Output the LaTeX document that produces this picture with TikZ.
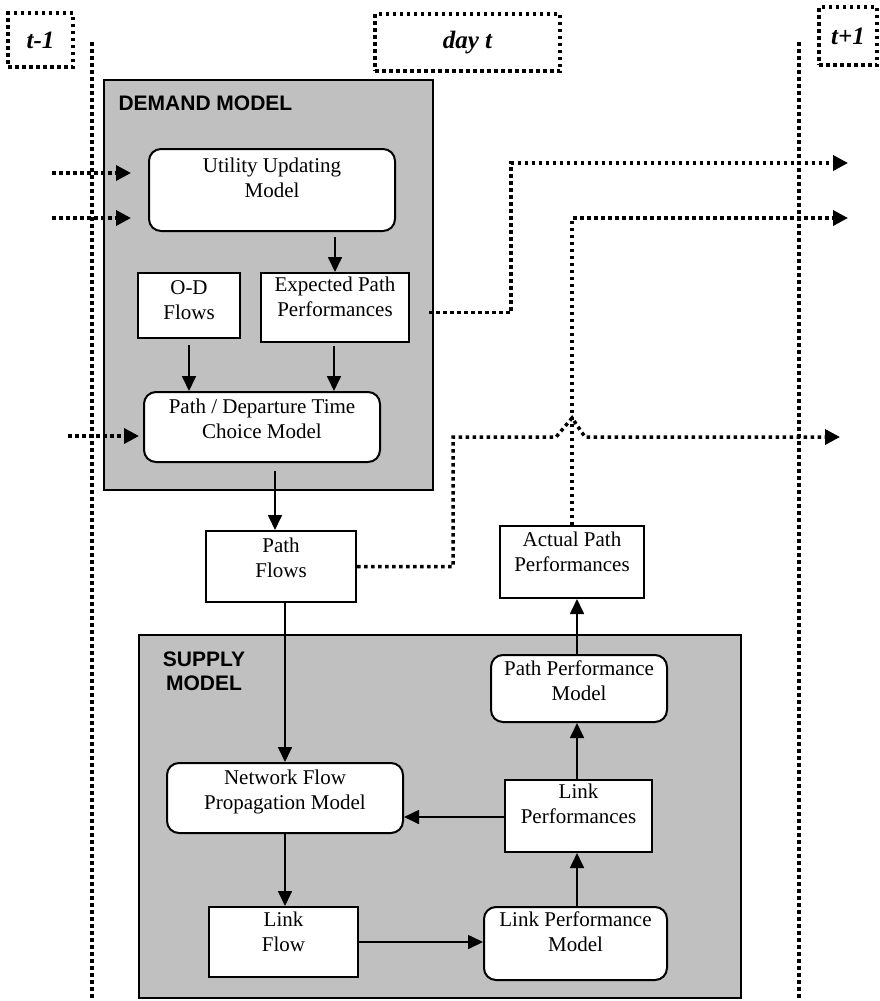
\documentclass[tikz,border=0pt]{standalone}
\usepackage{fontspec}
\setmainfont{Liberation Serif}
\setsansfont{Liberation Sans}
\usepackage{tikz}
\usepackage{xcolor}
\usetikzlibrary{calc}
\usetikzlibrary{arrows.meta, positioning}

\definecolor{panel}{RGB}{192,192,192}

\begin{document}
\begin{tikzpicture}[x=1pt, y=-1pt, line join=miter,
    area/.style={draw, line width=2pt, fill=panel, inner sep=0pt},
    box/.style={draw, line width=2pt, fill=white, align=center, inner sep=0pt,
        font=\fontsize{21}{25}\selectfont},
    rbox/.style={box, rounded corners=12pt},
    lift/.style={text depth=#1},
    title/.style={font=\sffamily\bfseries\fontsize{21}{24}\selectfont, align=center},
    daybox/.style={draw, line width=3.5pt, dash pattern=on 3.5pt off 3.5pt,
        font=\bfseries\itshape\fontsize{25}{28}\selectfont, inner sep=0pt},
    flow/.style={line width=1.7pt, -{Triangle[length=15pt,width=14pt]}},
    dotline/.style={line width=3.5pt, dash pattern=on 3.5pt off 3.5pt},
    dotarrow/.style={dotline, -{Triangle[length=15pt,width=15pt]}}]

    \useasboundingbox (0,0) rectangle (879,1001);

    % day markers
    \node[daybox, minimum width=65pt, minimum height=54pt] (tprev) at (40.5,40) {t-1};
    \node[daybox, minimum width=185pt, minimum height=57pt] (tday) at (467.5,42.5) {day t};
    \node[daybox, minimum width=58pt, minimum height=58pt] (tnext) at (848,36) {t+1};

    % day boundaries
    \coordinate (lefttop) at (92,42);
    \coordinate (leftbot) at (92,1001);
    \coordinate (righttop) at (799,42);
    \coordinate (rightbot) at (799,1001);
    \draw[dotline] (lefttop) -- (leftbot);
    \draw[dotline] (righttop) -- (rightbot);

    % demand model
    \node[area, minimum width=329pt, minimum height=410pt] (demand) at (268.5,285) {};
    \node[title, anchor=north west] (demandlabel) at (115,92) {DEMAND MODEL};

    \node[rbox, minimum width=246pt, minimum height=82pt, lift=25pt] (util) at (272,190)
        {Utility Updating\\Model};
    \node[box, minimum width=102pt, minimum height=65pt, lift=10pt] (od) at (189,305.5)
        {O-D\\Flows};
    \node[box, minimum width=148pt, minimum height=69pt, lift=21pt] (expperf) at (335,307.5)
        {Expected Path\\Performances};
    \node[rbox, minimum width=236pt, minimum height=70pt, lift=17pt] (choice) at (262,427)
        {Path / Departure Time\\Choice Model};

    \draw[flow, shorten <=5pt] (expperf.north |- util.south) -- (expperf.north);
    \draw[flow, shorten <=6pt] (od.south) -- (od.south |- choice.north);
    \draw[flow, shorten <=3pt] (expperf.south -| 334,0) -- (choice.north -| 334,0);

    % path flows and actual performances
    \node[box, minimum width=150pt, minimum height=71pt, lift=18pt] (pflow) at (281,566.5)
        {Path\\Flows};
    \node[box, minimum width=144pt, minimum height=72pt, lift=20pt] (actual) at (572,562)
        {Actual Path\\Performances};

    \draw[flow, shorten <=8pt] (choice.south -| 275,0) -- (pflow.north -| 275,0);

    % supply model
    \node[area, minimum width=602pt, minimum height=363pt] (supply) at (440,816.5) {};
    \node[title, anchor=north] (supplylabel) at (204,648) {SUPPLY\\MODEL};

    \node[rbox, minimum width=176pt, minimum height=67pt, lift=15pt] (ppm) at (579,688.5)
        {Path Performance\\Model};
    \node[rbox, minimum width=236pt, minimum height=70pt, lift=17pt] (netprop) at (285,798)
        {Network Flow\\Propagation Model};
    \node[box, minimum width=147pt, minimum height=72pt, lift=25pt] (lperf) at (578.5,816)
        {Link\\Performances};
    \node[box, minimum width=149pt, minimum height=70pt, lift=21pt] (lflow) at (283.5,942)
        {Link\\Flow};
    \node[rbox, minimum width=183pt, minimum height=73pt, lift=23pt] (lpm) at (575.5,943.5)
        {Link Performance\\Model};

    \draw[flow] (pflow.south -| netprop.north) -- (netprop.north);
    \draw[flow] (netprop.south) -- (lflow.north -| netprop.south);
    \draw[flow] (lflow.east) -- (lflow.east -| lpm.west);
    \draw[flow] (lpm.north -| 577,0) -- (lperf.south -| 577,0);
    \draw[flow] (lperf.north -| 577,0) -- (ppm.south -| 577,0);
    \draw[flow] (lperf.west |- 0,817) -- (netprop.east |- 0,817);
    \draw[flow] (ppm.north -| 577,0) -- (actual.south -| 577,0);

    % links to the previous and next day
    \coordinate (in1) at (52,173);
    \coordinate (in2) at (52,218);
    \coordinate (in3) at (68,436);
    \coordinate (out1) at (848,163);
    \coordinate (out2) at (848,218);
    \coordinate (out3) at (840,437);
    \coordinate (bump) at (actual.north |- 0,418);

    \draw[dotarrow] (in1) -- ($(util.west |- in1)+(-17,0)$);
    \draw[dotarrow] (in2) -- ($(util.west |- in2)+(-17,0)$);
    \draw[dotarrow] (in3) -- ($(choice.west |- in3)+(-4,0)$);

    \draw[dotarrow] ($(expperf.east)+(19,5)$) -- ++(82,0) |- (out1);
    \draw[dotarrow] (actual.north) |- (out2);
    \draw[dotarrow] (pflow.east) -- ++(96,0) |- ($(bump)+(-16,19)$)
        -- (bump) -- ++(13,19) -- (out3);
\end{tikzpicture}
\end{document}
